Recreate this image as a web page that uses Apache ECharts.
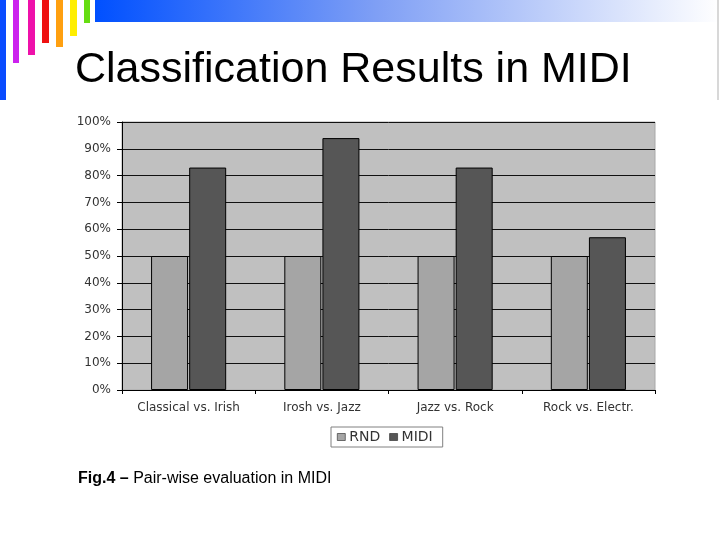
<!DOCTYPE html>
<html>
<head>
<meta charset="utf-8">
<script src="https://cdn.jsdelivr.net/npm/echarts@6/dist/echarts.min.js"></script>
<style>html,body{margin:0;padding:0;background:#fff;}#c{width:720px;height:540px;}</style>
</head>
<body>
<div id="c"></div>
<script>
var categories = ['Classical vs. Irish', 'Irosh vs. Jazz', 'Jazz vs. Rock', 'Rock vs. Electr.'];
var rndValues = [50, 50, 50, 50];
var midiValues = [83, 94, 83, 57];
var seriesNames = ['RND', 'MIDI'];
var titleText = 'Classification Results in MIDI';
var captionBold = 'Fig.4 \u2013';
var captionText = ' Pair-wise evaluation in MIDI';

var chart = echarts.init(document.getElementById('c'), null, {renderer: 'canvas'});

var deco = [
  {x: 0, w: 6, h: 100, c: '#0a4cff'},
  {x: 13, w: 6, h: 63, c: '#cc22ee'},
  {x: 28, w: 7, h: 55, c: '#ee11aa'},
  {x: 42, w: 7, h: 43, c: '#ee1111'},
  {x: 56, w: 7, h: 47, c: '#ffa010'},
  {x: 70, w: 7, h: 36, c: '#ffee00'},
  {x: 84, w: 6, h: 23, c: '#66dd11'}
];
var graphics = deco.map(function (d) {
  return {type: 'rect', shape: {x: d.x, y: 0, width: d.w, height: d.h}, style: {fill: d.c}, silent: true};
});
graphics.push({
  type: 'rect', shape: {x: 95, y: 0, width: 625, height: 22}, silent: true,
  style: {fill: new echarts.graphic.LinearGradient(0, 0, 1, 0, [
    {offset: 0, color: '#0050ff'}, {offset: 0.45, color: '#7f9ff5'}, {offset: 1, color: '#ffffff'}
  ])}
});
graphics.push({type: 'rect', shape: {x: 717, y: 0, width: 2, height: 100}, style: {fill: '#d8d8d8'}, silent: true});
graphics.push({
  type: 'text', left: 75, top: 49, silent: true,
  style: {text: titleText, font: '43px "Liberation Sans", Arial, sans-serif', fill: '#000'}
});
graphics.push({
  type: 'text', left: 78, top: 471, silent: true,
  style: {
    text: '{b|' + captionBold + '}{r|' + captionText + '}',
    rich: {
      b: {font: 'bold 16px "Liberation Sans", Arial, sans-serif', fill: '#000'},
      r: {font: '16px "Liberation Sans", Arial, sans-serif', fill: '#000'}
    }
  }
});

chart.setOption({
  animation: false,
  backgroundColor: '#ffffff',
  graphic: graphics,
  grid: {
    left: 122, top: 122, width: 533, height: 268,
    show: true, backgroundColor: '#c0c0c0', borderColor: '#a8a8a8', borderWidth: 1
  },
  legend: {
    data: seriesNames,
    left: 331, top: 427,
    backgroundColor: '#ffffff', borderColor: '#808080', borderWidth: 1,
    padding: [3, 10, 3, 6],
    itemWidth: 8, itemHeight: 7, itemGap: 9,
    icon: 'rect',
    itemStyle: {borderWidth: 0.6, borderColor: '#222'},
    textStyle: {fontFamily: '"DejaVu Sans", Verdana, sans-serif', fontSize: 14, color: '#333', padding: [0, 0, 0, -1]}
  },
  xAxis: {
    type: 'category',
    data: categories,
    axisLine: {show: true, lineStyle: {color: '#000', width: 1}},
    axisTick: {show: true, alignWithLabel: false, length: 4, lineStyle: {color: '#000'}},
    axisLabel: {fontFamily: '"DejaVu Sans", Verdana, sans-serif', fontSize: 12, color: '#333', margin: 12, interval: 0}
  },
  yAxis: {
    type: 'value',
    min: 0, max: 100, interval: 10,
    axisLine: {show: true, lineStyle: {color: '#000', width: 1}},
    axisTick: {show: true, length: 5, lineStyle: {color: '#000'}},
    axisLabel: {formatter: '{value}%', fontFamily: '"DejaVu Sans", Verdana, sans-serif', fontSize: 12, color: '#333', margin: 11},
    splitLine: {show: true, lineStyle: {color: '#111', width: 1}}
  },
  series: [
    {
      name: seriesNames[0], type: 'bar', data: rndValues,
      barWidth: 37, barGap: '3%',
      itemStyle: {color: '#a5a5a5', borderColor: '#000', borderWidth: 1}
    },
    {
      name: seriesNames[1], type: 'bar', data: midiValues,
      barWidth: 37,
      itemStyle: {color: '#565656', borderColor: '#000', borderWidth: 1}
    }
  ]
});
</script>
</body>
</html>
